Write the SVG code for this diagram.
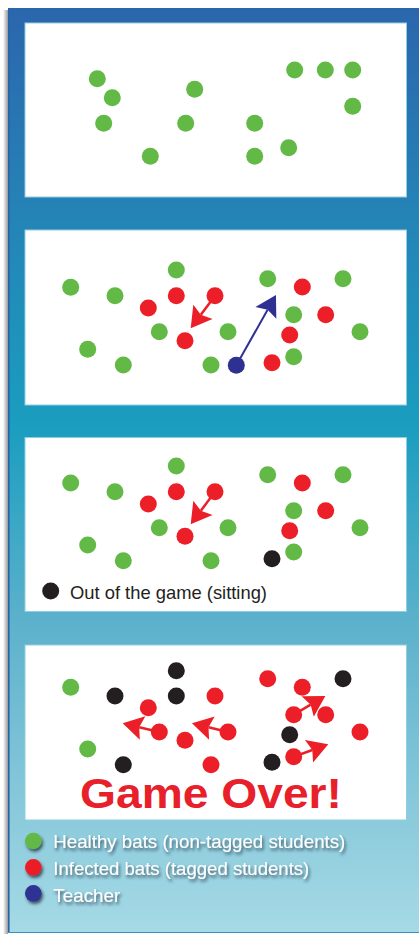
<svg xmlns="http://www.w3.org/2000/svg" width="419" height="936" viewBox="0 0 419 936">
<defs>
<linearGradient id="bg" x1="0" y1="0" x2="0" y2="1">
<stop offset="0" stop-color="#2b66ad"/>
<stop offset="0.22" stop-color="#2583b6"/>
<stop offset="0.45" stop-color="#1a9dbf"/>
<stop offset="0.67" stop-color="#5eb2cc"/>
<stop offset="0.88" stop-color="#8ccbdc"/>
<stop offset="1" stop-color="#a6dae6"/>
</linearGradient>
<linearGradient id="shadowL" x1="0" y1="0" x2="1" y2="0">
<stop offset="0" stop-color="#ffffff"/>
<stop offset="1" stop-color="#9a9a9a"/>
</linearGradient>
<filter id="drop" x="-20%" y="-50%" width="140%" height="200%">
<feDropShadow dx="1.5" dy="2.5" stdDeviation="1.8" flood-color="#1a2a3a" flood-opacity="0.75"/>
</filter>
<marker id="headRed" viewBox="-1 -13 23 26" refX="3.5" refY="0" markerWidth="23" markerHeight="26" markerUnits="userSpaceOnUse" orient="auto">
<path d="M20.5,0 L0,-12 L3.5,0 L0,12 Z" fill="#ec1f28"/>
</marker>
<marker id="headBlue" viewBox="-1 -13 23 26" refX="3.5" refY="0" markerWidth="23" markerHeight="26" markerUnits="userSpaceOnUse" orient="auto">
<path d="M20.5,0 L0,-12 L3.5,0 L0,12 Z" fill="#2e3192"/>
</marker>
</defs>
<style>
.panel{fill:#ffffff;stroke:#8fcde2;stroke-width:1}
.g{fill:#62b946}
.r{fill:#ec1f28}
.b{fill:#2e3192}
.k{fill:#231f20}
.ar{stroke:#ec1f28;stroke-width:2.5;fill:none;marker-end:url(#headRed)}
.ab{stroke:#2e3192;stroke-width:2;fill:none;marker-end:url(#headBlue)}
.leg{font-family:"Liberation Sans",Arial,sans-serif;font-size:18.5px;fill:#ffffff}
.out{font-family:"Liberation Sans",Arial,sans-serif;font-size:19px;fill:#231f20}
.over{font-family:"Liberation Sans",Arial,sans-serif;font-size:42px;font-weight:bold;fill:#e8202a}
</style>
<rect x="0" y="0" width="419" height="936" fill="#ffffff"/>
<rect x="3" y="10" width="5" height="924" fill="url(#shadowL)"/>
<rect x="8" y="8" width="411" height="925" fill="url(#bg)"/>
<line x1="8.8" y1="8" x2="8.8" y2="933" stroke="#2a62a8" stroke-width="1.6"/>
<line x1="8" y1="932.5" x2="419" y2="932.5" stroke="#3a8fbf" stroke-width="1"/>

<g id="panels">
<rect class="panel" x="25" y="23" width="381.5" height="174"/>
<rect class="panel" x="25" y="230" width="381.5" height="175"/>
<rect class="panel" x="25" y="437.5" width="381.5" height="174"/>
<rect class="panel" x="25" y="645" width="381.5" height="175"/>
</g>

<g id="connectors">
<line class="ar" x1="215" y1="295.7" x2="200.85" y2="314.7"/>
<line class="ab" x1="236.3" y1="365.3" x2="267.6" y2="309.8"/>
<line class="ar" x1="215" y1="491.7" x2="200.85" y2="510.7"/>
<line class="ar" x1="159.3" y1="732" x2="139.2" y2="727.2"/>
<line class="ar" x1="228" y1="732" x2="208.5" y2="727.3"/>
<line class="ar" x1="293.7" y1="714.7" x2="310.7" y2="704.7"/>
<line class="ar" x1="293.7" y1="756.7" x2="312.3" y2="750"/>
</g>

<g id="panel1">
<g id="p1-n1"><circle class="g" cx="97.3" cy="78.7" r="8.5"/></g>
<g id="p1-n2"><circle class="g" cx="112.3" cy="97.7" r="8.5"/></g>
<g id="p1-n3"><circle class="g" cx="103.7" cy="123.3" r="8.5"/></g>
<g id="p1-n4"><circle class="g" cx="150.3" cy="156.3" r="8.5"/></g>
<g id="p1-n5"><circle class="g" cx="194.7" cy="89.3" r="8.5"/></g>
<g id="p1-n6"><circle class="g" cx="185.7" cy="123.3" r="8.5"/></g>
<g id="p1-n7"><circle class="g" cx="254.7" cy="123.3" r="8.5"/></g>
<g id="p1-n8"><circle class="g" cx="254.7" cy="156.3" r="8.5"/></g>
<g id="p1-n9"><circle class="g" cx="288.7" cy="147.7" r="8.5"/></g>
<g id="p1-n10"><circle class="g" cx="294.7" cy="70" r="8.5"/></g>
<g id="p1-n11"><circle class="g" cx="325.3" cy="70" r="8.5"/></g>
<g id="p1-n12"><circle class="g" cx="352.7" cy="70" r="8.5"/></g>
<g id="p1-n13"><circle class="g" cx="352.7" cy="106.3" r="8.5"/></g>
</g>

<g id="panel2">
<g id="p2-g1"><circle class="g" cx="70.7" cy="287.3" r="8.5"/></g>
<g id="p2-g2"><circle class="g" cx="115" cy="295.7" r="8.5"/></g>
<g id="p2-g3"><circle class="g" cx="176.3" cy="270" r="8.5"/></g>
<g id="p2-g4"><circle class="g" cx="267.7" cy="278.7" r="8.5"/></g>
<g id="p2-g5"><circle class="g" cx="343" cy="278.7" r="8.5"/></g>
<g id="p2-g6"><circle class="g" cx="159.3" cy="331.7" r="8.5"/></g>
<g id="p2-g7"><circle class="g" cx="228" cy="331.7" r="8.5"/></g>
<g id="p2-g8"><circle class="g" cx="293.7" cy="314.7" r="8.5"/></g>
<g id="p2-g9"><circle class="g" cx="360" cy="331.7" r="8.5"/></g>
<g id="p2-g10"><circle class="g" cx="87.7" cy="349.3" r="8.5"/></g>
<g id="p2-g11"><circle class="g" cx="123.3" cy="365" r="8.5"/></g>
<g id="p2-g12"><circle class="g" cx="211" cy="365" r="8.5"/></g>
<g id="p2-g13"><circle class="g" cx="293.7" cy="356.7" r="8.5"/></g>
<g id="p2-r1"><circle class="r" cx="148.3" cy="308" r="8.5"/></g>
<g id="p2-r2"><circle class="r" cx="176.3" cy="295.7" r="8.5"/></g>
<g id="p2-r3"><circle class="r" cx="215" cy="295.7" r="8.5"/></g>
<g id="p2-r4"><circle class="r" cx="185" cy="340.7" r="8.5"/></g>
<g id="p2-r5"><circle class="r" cx="302.3" cy="287" r="8.5"/></g>
<g id="p2-r6"><circle class="r" cx="325.7" cy="314.7" r="8.5"/></g>
<g id="p2-r7"><circle class="r" cx="289.7" cy="335" r="8.5"/></g>
<g id="p2-r8"><circle class="r" cx="272" cy="362.7" r="8.5"/></g>
<g id="p2-teacher"><circle class="b" cx="236.3" cy="365.3" r="8.5"/></g>
</g>

<g id="panel3">
<g id="p3-g1"><circle class="g" cx="70.7" cy="483" r="8.5"/></g>
<g id="p3-g2"><circle class="g" cx="115" cy="491.7" r="8.5"/></g>
<g id="p3-g3"><circle class="g" cx="176.3" cy="466" r="8.5"/></g>
<g id="p3-g4"><circle class="g" cx="267.7" cy="474.7" r="8.5"/></g>
<g id="p3-g5"><circle class="g" cx="343" cy="474.7" r="8.5"/></g>
<g id="p3-g6"><circle class="g" cx="159.3" cy="527.7" r="8.5"/></g>
<g id="p3-g7"><circle class="g" cx="228" cy="527.7" r="8.5"/></g>
<g id="p3-g8"><circle class="g" cx="293.7" cy="510.7" r="8.5"/></g>
<g id="p3-g9"><circle class="g" cx="360" cy="527.7" r="8.5"/></g>
<g id="p3-g10"><circle class="g" cx="87.7" cy="545" r="8.5"/></g>
<g id="p3-g11"><circle class="g" cx="123.3" cy="560.7" r="8.5"/></g>
<g id="p3-g12"><circle class="g" cx="211" cy="560.7" r="8.5"/></g>
<g id="p3-g13"><circle class="g" cx="293.7" cy="552" r="8.5"/></g>
<g id="p3-r1"><circle class="r" cx="148.3" cy="504" r="8.5"/></g>
<g id="p3-r2"><circle class="r" cx="176.3" cy="491.7" r="8.5"/></g>
<g id="p3-r3"><circle class="r" cx="215" cy="491.7" r="8.5"/></g>
<g id="p3-r4"><circle class="r" cx="185" cy="536.3" r="8.5"/></g>
<g id="p3-r5"><circle class="r" cx="302.3" cy="483" r="8.5"/></g>
<g id="p3-r6"><circle class="r" cx="325.7" cy="510.7" r="8.5"/></g>
<g id="p3-r7"><circle class="r" cx="289.7" cy="530.7" r="8.5"/></g>
<g id="p3-k1"><circle class="k" cx="272" cy="558.7" r="8.5"/></g>
<g id="p3-key"><circle class="k" cx="50.7" cy="591" r="8.5"/><text class="out" x="70" y="598.5" textLength="197" lengthAdjust="spacingAndGlyphs">Out of the game (sitting)</text></g>
</g>

<g id="panel4">
<g id="p4-g1"><circle class="g" cx="70.7" cy="687.3" r="8.5"/></g>
<g id="p4-g2"><circle class="g" cx="87.7" cy="749" r="8.5"/></g>
<g id="p4-k1"><circle class="k" cx="115" cy="696" r="8.5"/></g>
<g id="p4-k2"><circle class="k" cx="176.3" cy="670.7" r="8.5"/></g>
<g id="p4-k3"><circle class="k" cx="176.3" cy="696" r="8.5"/></g>
<g id="p4-k4"><circle class="k" cx="123.3" cy="764.7" r="8.5"/></g>
<g id="p4-k5"><circle class="k" cx="272" cy="762.3" r="8.5"/></g>
<g id="p4-k6"><circle class="k" cx="289.7" cy="734.7" r="8.5"/></g>
<g id="p4-k7"><circle class="k" cx="343" cy="678.7" r="8.5"/></g>
<g id="p4-r1"><circle class="r" cx="148.3" cy="707.7" r="8.5"/></g>
<g id="p4-r2"><circle class="r" cx="215" cy="696" r="8.5"/></g>
<g id="p4-r3"><circle class="r" cx="159.3" cy="732" r="8.5"/></g>
<g id="p4-r4"><circle class="r" cx="228" cy="732" r="8.5"/></g>
<g id="p4-r5"><circle class="r" cx="185" cy="740.3" r="8.5"/></g>
<g id="p4-r6"><circle class="r" cx="211" cy="764.7" r="8.5"/></g>
<g id="p4-r7"><circle class="r" cx="267.7" cy="678.7" r="8.5"/></g>
<g id="p4-r8"><circle class="r" cx="302.3" cy="687.3" r="8.5"/></g>
<g id="p4-r9"><circle class="r" cx="293.7" cy="714.7" r="8.5"/></g>
<g id="p4-r10"><circle class="r" cx="325.7" cy="714.7" r="8.5"/></g>
<g id="p4-r11"><circle class="r" cx="360" cy="732" r="8.5"/></g>
<g id="p4-r12"><circle class="r" cx="293.7" cy="756.7" r="8.5"/></g>
<g id="p4-title"><text class="over" x="80" y="808" textLength="262" lengthAdjust="spacingAndGlyphs">Game Over!</text></g>
</g>

<g id="legend" filter="url(#drop)">
<g id="leg-healthy"><circle class="g" cx="33.3" cy="841" r="8.3"/><text class="leg" x="53.3" y="848.3" textLength="292" lengthAdjust="spacingAndGlyphs">Healthy bats (non-tagged students)</text></g>
<g id="leg-infected"><circle class="r" cx="33.3" cy="867.3" r="8.3"/><text class="leg" x="53.3" y="874.5" textLength="256" lengthAdjust="spacingAndGlyphs">Infected bats (tagged students)</text></g>
<g id="leg-teacher"><circle class="b" cx="33.3" cy="893.3" r="8.3"/><text class="leg" x="53.3" y="901.5" textLength="67" lengthAdjust="spacingAndGlyphs">Teacher</text></g>
</g>
</svg>
